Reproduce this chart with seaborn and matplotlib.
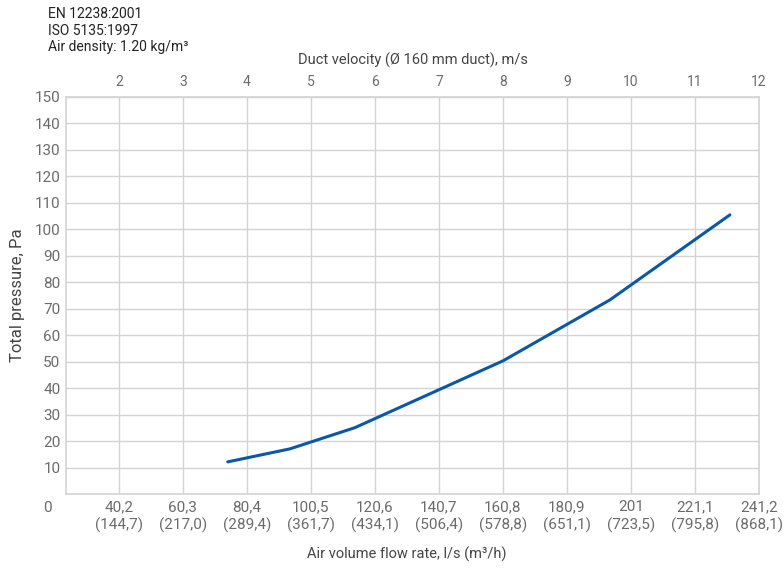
import pandas as pd
import matplotlib.pyplot as plt
import seaborn as sns

# Data
flow = [74.4, 93.9, 114.3, 160.8, 194.4, 232.1]          # l/s
pressure = [12.3, 17.2, 25.2, 50.4, 73.4, 105.5]          # Pa
flow_ticks = [40.2, 60.3, 80.4, 100.5, 120.6, 140.7, 160.8, 180.9, 201, 221.1, 241.2]
flow_labels = ["40,2\n(144,7)", "60,3\n(217,0)", "80,4\n(289,4)", "100,5\n(361,7)",
               "120,6\n(434,1)", "140,7\n(506,4)", "160,8\n(578,8)", "180,9\n(651,1)",
               "201\n(723,5)", "221,1\n(795,8)", "241,2\n(868,1)"]
velocity_labels = ["2", "3", "4", "5", "6", "7", "8", "9", "10", "11", "12"]
pressure_ticks = list(range(10, 160, 10))

df = pd.DataFrame({"flow": flow, "pressure": pressure})

sns.set_style("white")
plt.rcParams["font.family"] = ["Roboto", "DejaVu Sans"]

grey = "#6b6b6b"
fig = plt.figure(figsize=(7.84, 5.7), dpi=100)
ax = fig.add_axes([0.0842, 0.1325, 0.968 - 0.0842, 0.830 - 0.1325])

sns.lineplot(data=df, x="flow", y="pressure", ax=ax, color="#0a58a8", linewidth=2.2)

ax.set_xlim(23.6, 241.2)
ax.set_ylim(0, 150)
ax.set_xticks(flow_ticks)
ax.set_xticklabels(flow_labels, color=grey, fontsize=11, linespacing=1.3)
ax.set_yticks(pressure_ticks)
ax.set_yticklabels([str(t) for t in pressure_ticks], color=grey, fontsize=11)
ax.tick_params(length=0, pad=4)
ax.grid(True, color="#d3d3d3", linewidth=1)
for s in ax.spines.values():
    s.set_color("#d3d3d3")
    s.set_linewidth(1.2)

ax.set_xlabel("Air volume flow rate, l/s (m³/h)", color="#444444", fontsize=10.5, va="center")
ax.xaxis.set_label_coords(0.492, -0.15)
ax.set_ylabel("Total pressure, Pa", color="#444444", fontsize=12)
ax.yaxis.set_label_coords(-0.0595, 0.5)

top = ax.secondary_xaxis("top")
top.set_xticks(flow_ticks)
top.set_xticklabels(velocity_labels, color=grey, fontsize=10)
top.tick_params(length=0, pad=6)
top.spines["top"].set_visible(False)
top.set_xlabel("Duct velocity (Ø 160 mm duct), m/s", color="#444444", fontsize=10.5, labelpad=7)

ax.text(-0.027, -0.035, "0", transform=ax.transAxes, ha="center", va="center",
        color=grey, fontsize=11)

fig.text(48 / 784, 1 - 14 / 570, "EN 12238:2001", fontsize=10, va="center", color="#222222")
fig.text(48 / 784, 1 - 31 / 570, "ISO 5135:1997", fontsize=10, va="center", color="#222222")
fig.text(48 / 784, 1 - 47 / 570, "Air density: 1.20 kg/m³", fontsize=10, va="center", color="#222222")

plt.savefig("out.png", dpi=100)
